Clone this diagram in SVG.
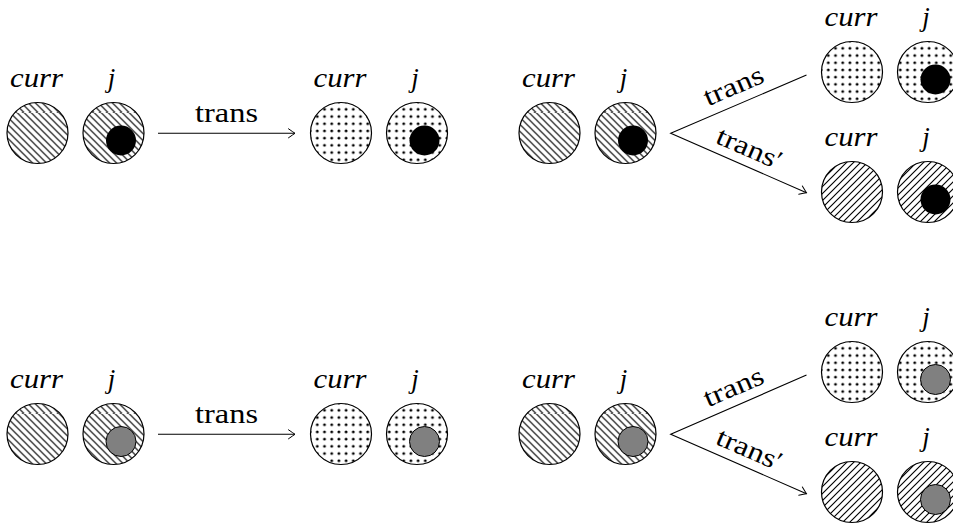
<svg xmlns="http://www.w3.org/2000/svg" width="953" height="530" viewBox="0 0 953 530">
  <defs>
    <!-- fill patterns for the register cells -->
    <pattern id="nwLines" patternUnits="userSpaceOnUse" width="7" height="7">
      <path d="M-1,-1 L8,8 M-1,6 L1,8 M6,-1 L8,1" stroke="#000" stroke-width="1.15"/>
    </pattern>
    <pattern id="neLines" patternUnits="userSpaceOnUse" width="7" height="7">
      <path d="M-1,8 L8,-1 M-1,1 L1,-1 M6,8 L8,6" stroke="#000" stroke-width="1.15"/>
    </pattern>
    <pattern id="dots" patternUnits="userSpaceOnUse" width="7.2" height="7.2" x="1.5" y="1.5">
      <circle cx="3.6" cy="3.6" r="1.45" fill="#000"/>
    </pattern>
    <marker id="to" markerUnits="userSpaceOnUse" markerWidth="12" markerHeight="12" viewBox="-8 -6 10 12" refX="0" refY="0" orient="auto">
      <path d="M-6.5,-4.5 Q-2,-1.3 0,0 Q-2,1.3 -6.5,4.5" fill="none" stroke="#000" stroke-width="1" stroke-linecap="round"/>
    </marker>
  </defs>
  <style>
    .cell { stroke: #000; stroke-width: 1.2; }
    .nw { fill: url(#nwLines); }
    .ne { fill: url(#neLines); }
    .dt { fill: url(#dots); }
    .blk { fill: #000; }
    .gry { fill: #808080; stroke: #000; stroke-width: 1; }
    .var { font-family: "Liberation Serif", "Times New Roman", Times, serif; font-style: italic; font-size: 27px; text-anchor: middle; fill: #000; }
    .lbl { font-family: "Liberation Serif", "Times New Roman", Times, serif; font-size: 27px; fill: #000; }
    .edge { fill: none; stroke: #000; stroke-width: 1.1; marker-end: url(#to); }
  </style>

  <!-- ===== upper row: black token ===== -->
  <g id="a1" transform="translate(37.5,133)">
    <text class="var" x="-1" y="-46" textLength="53" lengthAdjust="spacingAndGlyphs">curr</text>
    <text class="var" x="74" y="-46">j</text>
    <circle class="cell nw" cx="0" cy="0" r="30.5"/>
    <circle class="cell nw" cx="76" cy="0" r="30.5"/>
    <circle class="blk" cx="83.5" cy="7.5" r="15"/>
  </g>
  <g id="b1" transform="translate(341,133)">
    <text class="var" x="-1" y="-46" textLength="53" lengthAdjust="spacingAndGlyphs">curr</text>
    <text class="var" x="74" y="-46">j</text>
    <circle class="cell dt" cx="0" cy="0" r="30.5"/>
    <circle class="cell dt" cx="76" cy="0" r="30.5"/>
    <circle class="blk" cx="83.5" cy="7.5" r="15"/>
  </g>
  <g id="c1" transform="translate(549.5,133)">
    <text class="var" x="-1" y="-46" textLength="53" lengthAdjust="spacingAndGlyphs">curr</text>
    <text class="var" x="74" y="-46">j</text>
    <circle class="cell nw" cx="0" cy="0" r="30.5"/>
    <circle class="cell nw" cx="76" cy="0" r="30.5"/>
    <circle class="blk" cx="83.5" cy="7.5" r="15"/>
  </g>
  <g id="d1" transform="translate(852,72)">
    <text class="var" x="-1" y="-46" textLength="53" lengthAdjust="spacingAndGlyphs">curr</text>
    <text class="var" x="74" y="-46">j</text>
    <circle class="cell dt" cx="0" cy="0" r="30.5"/>
    <circle class="cell dt" cx="76" cy="0" r="30.5"/>
    <circle class="blk" cx="83.5" cy="7.5" r="15"/>
  </g>
  <g id="e1" transform="translate(852,192)">
    <text class="var" x="-1" y="-46" textLength="53" lengthAdjust="spacingAndGlyphs">curr</text>
    <text class="var" x="74" y="-46">j</text>
    <circle class="cell ne" cx="0" cy="0" r="30.5"/>
    <circle class="cell ne" cx="76" cy="0" r="30.5"/>
    <circle class="blk" cx="83.5" cy="7.5" r="15"/>
  </g>

  <!-- ===== lower row: grey token ===== -->
  <g id="a2" transform="translate(37.5,434)">
    <text class="var" x="-1" y="-46" textLength="53" lengthAdjust="spacingAndGlyphs">curr</text>
    <text class="var" x="74" y="-46">j</text>
    <circle class="cell nw" cx="0" cy="0" r="30.5"/>
    <circle class="cell nw" cx="76" cy="0" r="30.5"/>
    <circle class="gry" cx="83.5" cy="7.5" r="15"/>
  </g>
  <g id="b2" transform="translate(341,434)">
    <text class="var" x="-1" y="-46" textLength="53" lengthAdjust="spacingAndGlyphs">curr</text>
    <text class="var" x="74" y="-46">j</text>
    <circle class="cell dt" cx="0" cy="0" r="30.5"/>
    <circle class="cell dt" cx="76" cy="0" r="30.5"/>
    <circle class="gry" cx="83.5" cy="7.5" r="15"/>
  </g>
  <g id="c2" transform="translate(549.5,434)">
    <text class="var" x="-1" y="-46" textLength="53" lengthAdjust="spacingAndGlyphs">curr</text>
    <text class="var" x="74" y="-46">j</text>
    <circle class="cell nw" cx="0" cy="0" r="30.5"/>
    <circle class="cell nw" cx="76" cy="0" r="30.5"/>
    <circle class="gry" cx="83.5" cy="7.5" r="15"/>
  </g>
  <g id="d2" transform="translate(852,372)">
    <text class="var" x="-1" y="-46" textLength="53" lengthAdjust="spacingAndGlyphs">curr</text>
    <text class="var" x="74" y="-46">j</text>
    <circle class="cell dt" cx="0" cy="0" r="30.5"/>
    <circle class="cell dt" cx="76" cy="0" r="30.5"/>
    <circle class="gry" cx="83.5" cy="7.5" r="15"/>
  </g>
  <g id="e2" transform="translate(852,492)">
    <text class="var" x="-1" y="-46" textLength="53" lengthAdjust="spacingAndGlyphs">curr</text>
    <text class="var" x="74" y="-46">j</text>
    <circle class="cell ne" cx="0" cy="0" r="30.5"/>
    <circle class="cell ne" cx="76" cy="0" r="30.5"/>
    <circle class="gry" cx="83.5" cy="7.5" r="15"/>
  </g>

  <!-- ===== transitions ===== -->
  <g id="edges">
    <!-- upper row -->
    <path class="edge" d="M158,133.3 L295,133.3"/>
    <text class="lbl" x="195" y="121.5" textLength="63" lengthAdjust="spacingAndGlyphs">trans</text>
    <path class="edge" d="M806.5,75 L670.7,133.3 L806.5,192.7"/>
    <text class="lbl" transform="translate(737,94) rotate(-23.2)" x="-31.5" y="0" textLength="63" lengthAdjust="spacingAndGlyphs">trans</text>
    <text class="lbl" transform="translate(743,155) rotate(23.6)" x="-31.5" y="0"><tspan textLength="63" lengthAdjust="spacingAndGlyphs">trans</tspan>′</text>

    <!-- lower row -->
    <path class="edge" d="M158,434.3 L295,434.3"/>
    <text class="lbl" x="195" y="422.5" textLength="63" lengthAdjust="spacingAndGlyphs">trans</text>
    <path class="edge" d="M806.5,375 L670.7,434.3 L806.5,493.7"/>
    <text class="lbl" transform="translate(737,395) rotate(-23.2)" x="-31.5" y="0" textLength="63" lengthAdjust="spacingAndGlyphs">trans</text>
    <text class="lbl" transform="translate(743,456) rotate(23.6)" x="-31.5" y="0"><tspan textLength="63" lengthAdjust="spacingAndGlyphs">trans</tspan>′</text>
  </g>
</svg>
